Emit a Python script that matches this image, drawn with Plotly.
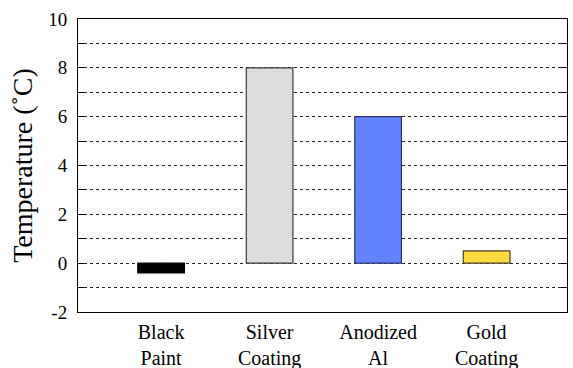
import plotly.graph_objects as go

categories = ["Black<br>Paint", "Silver<br>Coating", "Anodized<br>Al", "Gold<br>Coating"]
values = [-0.4, 8.0, 6.0, 0.5]
fill_colors = ["#000000", "#dcdddc", "#6384ff", "#ffd93d"]
edge_colors = ["#000000", "#3a3a3a", "#26336e", "#4a4224"]
y_ticks = [-2, 0, 2, 4, 6, 8, 10]

FONT = "Liberation Serif, Times New Roman, serif"

fig = go.Figure(
    go.Bar(
        x=categories,
        y=values,
        width=0.43,
        marker=dict(color=fill_colors, line=dict(color=edge_colors, width=1.2)),
        showlegend=False,
    )
)

fig.update_layout(
    width=573,
    height=368,
    margin=dict(l=78, r=6, t=19, b=56),
    paper_bgcolor="white",
    plot_bgcolor="white",
    font=dict(family=FONT, color="black"),
    xaxis=dict(
        type="category",
        range=[-0.766, 3.741],
        automargin=False,
        showline=True,
        linecolor="black",
        linewidth=1,
        mirror=True,
        ticks="",
        showgrid=False,
        tickfont=dict(size=20, family=FONT, color="black"),
        ticklabelstandoff=2,
    ),
    yaxis=dict(
        range=[-2, 10],
        automargin=False,
        tickvals=y_ticks,
        ticktext=[str(v) for v in y_ticks],
        showline=True,
        linecolor="black",
        linewidth=1,
        mirror="allticks",
        ticks="inside",
        ticklen=6,
        tickcolor="black",
        showgrid=True,
        gridcolor="#222222",
        griddash="dot",
        gridwidth=1,
        zeroline=False,
        tickfont=dict(size=19, family=FONT, color="black"),
        ticklabelstandoff=6,
        title=dict(text="Temperature (˚C)", font=dict(size=28, family=FONT, color="black"), standoff=7),
        minor=dict(
            dtick=1,
            ticks="inside",
            ticklen=6,
            tickcolor="black",
            showgrid=True,
            gridcolor="#222222",
            griddash="dot",
            gridwidth=1,
        ),
    ),
)

fig.write_html(
    "out.html",
    config={"displayModeBar": False},
    post_script="document.body.style.margin='0';",
)
